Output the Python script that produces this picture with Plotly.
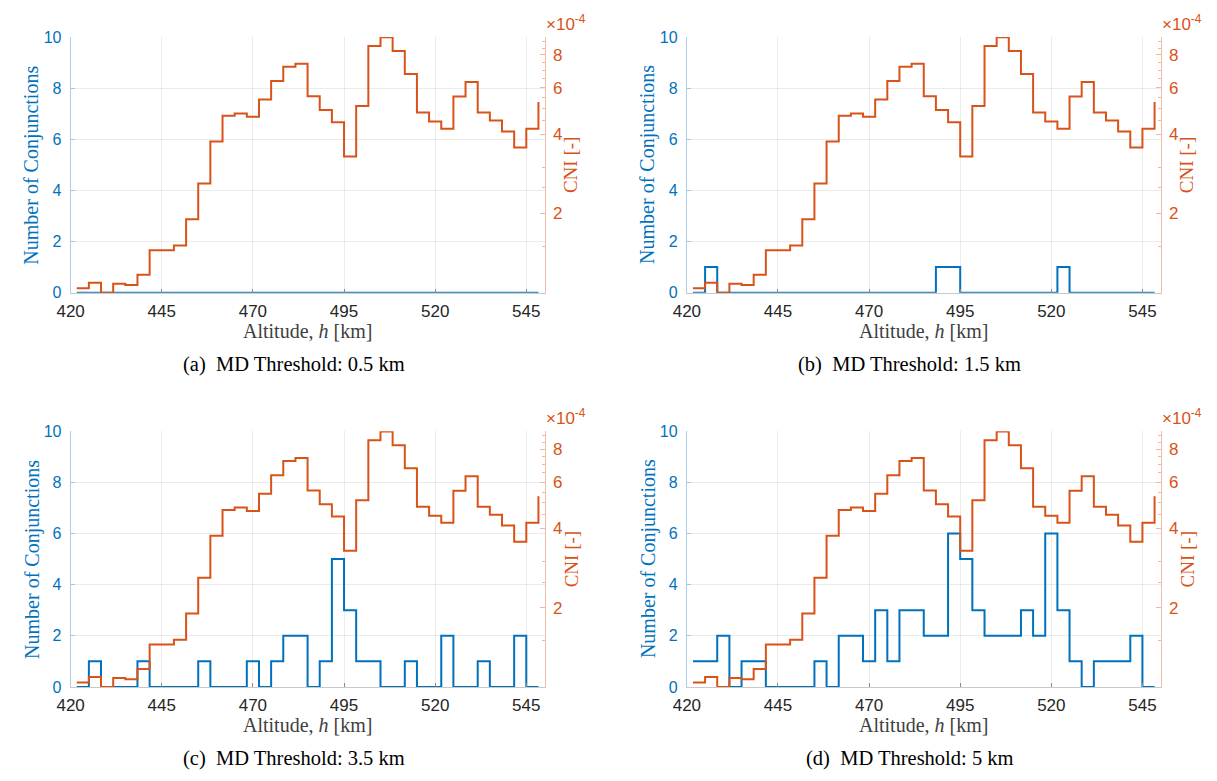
import math
import plotly.graph_objects as go

# ---------------- data ----------------
altitude_km = [421.67, 425.00, 428.33, 431.67, 435.00, 438.33, 441.67, 445.00, 448.33, 451.67,
               455.00, 458.33, 461.67, 465.00, 468.33, 471.67, 475.00, 478.33, 481.67, 485.00,
               488.33, 491.67, 495.00, 498.33, 501.67, 505.00, 508.33, 511.67, 515.00, 518.33,
               521.67, 525.00, 528.33, 531.67, 535.00, 538.33, 541.67, 545.00, 548.33]

# CNI in units of 1e-4
cni_e4 = [1.04, 1.09, 1.00, 1.08, 1.07, 1.17, 1.45, 1.45, 1.51, 1.90,
          2.60, 3.75, 4.70, 4.80, 4.66, 5.42, 6.37, 7.22, 7.41, 5.57,
          4.94, 4.44, 3.29, 5.12, 8.66, 9.35, 8.28, 6.78, 4.84, 4.47,
          4.20, 5.56, 6.32, 4.84, 4.51, 4.10, 3.56, 4.20, 5.30]

conj_05km = [0, 0, 0, 0, 0, 0, 0, 0, 0, 0,
             0, 0, 0, 0, 0, 0, 0, 0, 0, 0,
             0, 0, 0, 0, 0, 0, 0, 0, 0, 0,
             0, 0, 0, 0, 0, 0, 0, 0, 0]
conj_15km = [0, 1, 0, 0, 0, 0, 0, 0, 0, 0,
             0, 0, 0, 0, 0, 0, 0, 0, 0, 0,
             1, 1, 0, 0, 0, 0, 0, 0, 0, 0,
             1, 0, 0, 0, 0, 0, 0, 0, 0]
conj_35km = [0, 1, 0, 0, 0, 1, 0, 0, 0, 0,
             1, 0, 0, 0, 1, 0, 1, 2, 2, 0,
             1, 5, 3, 1, 1, 0, 0, 1, 0, 0,
             2, 0, 0, 1, 0, 0, 2, 0, 0]
conj_5km = [1, 1, 2, 0, 1, 1, 0, 0, 0, 0,
            1, 0, 2, 2, 1, 3, 1, 3, 3, 2,
            2, 6, 5, 3, 2, 2, 2, 3, 2, 6,
            3, 1, 0, 1, 1, 1, 2, 0, 0]

captions = ["(a)&nbsp;&nbsp;MD Threshold: 0.5 km", "(b)&nbsp;&nbsp;MD Threshold: 1.5 km",
            "(c)&nbsp;&nbsp;MD Threshold: 3.5 km", "(d)&nbsp;&nbsp;MD Threshold: 5 km"]
x_ticks = [420, 445, 470, 495, 520, 545]
left_ticks = [0, 2, 4, 6, 8, 10]
right_ticks_e4 = [2, 4, 6, 8]
right_minor_e4 = [1.5, 2.5, 3, 4.5, 5, 5.5, 6.5, 7, 7.5, 8.5, 9]

# ---------------- style ----------------
W, H = 1217, 781
BLUE = "#0072BD"
ORANGE = "#D95319"
GRID = "rgba(38,38,38,0.09)"
SANS = "Liberation Sans, Arial, sans-serif"
SERIF = "Liberation Serif, Times New Roman, serif"

def px(x):
    return x / W

def py(y):
    return 1 - y / H

# panel pixel boxes: (left, right, top, bottom)
boxes = [(57.3, 536.7, 29.7, 291.0), (680.7, 1160.0, 29.7, 291.0),
         (57.3, 536.7, 432.7, 694.0), (680.7, 1160.0, 432.7, 694.0)]
series = [conj_05km, conj_15km, conj_35km, conj_5km]

fig = go.Figure()
layout = dict(width=W, height=H, margin=dict(l=0, r=0, t=0, b=0),
              paper_bgcolor="white", plot_bgcolor="white", showlegend=False)
annotations = []
cni = [v * 1e-4 for v in cni_e4]

for i, (l, r, t, b) in enumerate(boxes):
    xa = f"x{i+1}"
    yl = f"y{2*i+1}"
    yr = f"y{2*i+2}"
    fig.add_trace(go.Scatter(x=altitude_km, y=series[i], xaxis=xa, yaxis=yl,
                             mode="lines", line_shape="hv",
                             line=dict(color=BLUE, width=2), hoverinfo="skip"))
    fig.add_trace(go.Scatter(x=altitude_km, y=cni, xaxis=xa, yaxis=yr,
                             mode="lines", line_shape="hv",
                             line=dict(color=ORANGE, width=2), hoverinfo="skip"))
    xkey = "xaxis" if i == 0 else f"xaxis{i+1}"
    ylkey = f"yaxis{2*i+1}" if i > 0 else "yaxis"
    yrkey = f"yaxis{2*i+2}"
    layout[xkey] = dict(domain=[px(l), px(r)], anchor=yl, range=[420, 550],
                        tickmode="array", tickvals=x_ticks,
                        ticks="inside", ticklen=4, tickcolor="#8a8a8a",
                        tickfont=dict(family=SANS, size=17, color="#262626"),
                        ticklabelstandoff=3,
                        showline=True, linecolor="#c9c9c9", linewidth=1,
                        showgrid=True, gridcolor=GRID, gridwidth=1, zeroline=False)
    layout[ylkey] = dict(domain=[py(b), py(t)], anchor=xa, range=[0, 10],
                         tickmode="array", tickvals=left_ticks,
                         ticks="inside", ticklen=4, tickcolor="#9cc6e6",
                         tickfont=dict(family=SANS, size=16, color=BLUE),
                         ticklabelstandoff=5,
                         showline=True, linecolor="#a9cfea", linewidth=1,
                         showgrid=True, gridcolor=GRID, gridwidth=1, zeroline=False)
    layout[yrkey] = dict(domain=[py(b), py(t)], anchor=xa, overlaying=yl, side="right",
                         type="log", range=[-4, math.log10(9.36e-4)],
                         tickmode="array", tickvals=[v * 1e-4 for v in right_ticks_e4],
                         ticktext=[str(v) for v in right_ticks_e4],
                         ticks="inside", ticklen=5, tickcolor="#f2b79c",
                         minor=dict(tickmode="array", tickvals=[v * 1e-4 for v in right_minor_e4],
                                    ticks="inside", ticklen=3, tickcolor="#f2b79c", showgrid=False),
                         tickfont=dict(family=SANS, size=17, color=ORANGE),
                         ticklabelstandoff=4,
                         showline=True, linecolor="#f3bca4", linewidth=1,
                         showgrid=False, zeroline=False)
    cx = (l + r) / 2
    # left axis title
    annotations.append(dict(x=px(l - 39.3), y=py((t + b) / 2), xref="paper", yref="paper",
                            text="Number of Conjunctions", textangle=-90, showarrow=False,
                            xanchor="center", yanchor="middle",
                            font=dict(family=SERIF, size=20, color=BLUE)))
    # right axis title
    annotations.append(dict(x=px(r + 27), y=py((t + b) / 2), xref="paper", yref="paper",
                            text="CNI [-]", textangle=-90, showarrow=False,
                            xanchor="center", yanchor="middle",
                            font=dict(family=SERIF, size=19, color=ORANGE)))
    # exponent
    annotations.append(dict(x=px(r - 1), y=py(t - 1), xref="paper", yref="paper",
                            text="×10<sup>-4</sup>", showarrow=False,
                            xanchor="left", yanchor="bottom",
                            font=dict(family=SANS, size=17, color=ORANGE)))
    # x title
    annotations.append(dict(x=px(cx), y=py(b + 26), xref="paper", yref="paper",
                            text="Altitude, <i>h</i> [km]", showarrow=False,
                            xanchor="center", yanchor="top",
                            font=dict(family=SERIF, size=20, color="#404040")))
    # caption
    annotations.append(dict(x=px(cx - 14), y=py(b + 73), xref="paper", yref="paper",
                            text=captions[i], showarrow=False,
                            xanchor="center", yanchor="middle",
                            font=dict(family=SERIF, size=20.5, color="black")))

layout["annotations"] = annotations
fig.update_layout(**layout)
fig.write_html("out.html", config={"displayModeBar": False},
               post_script="document.body.style.margin='0';")
